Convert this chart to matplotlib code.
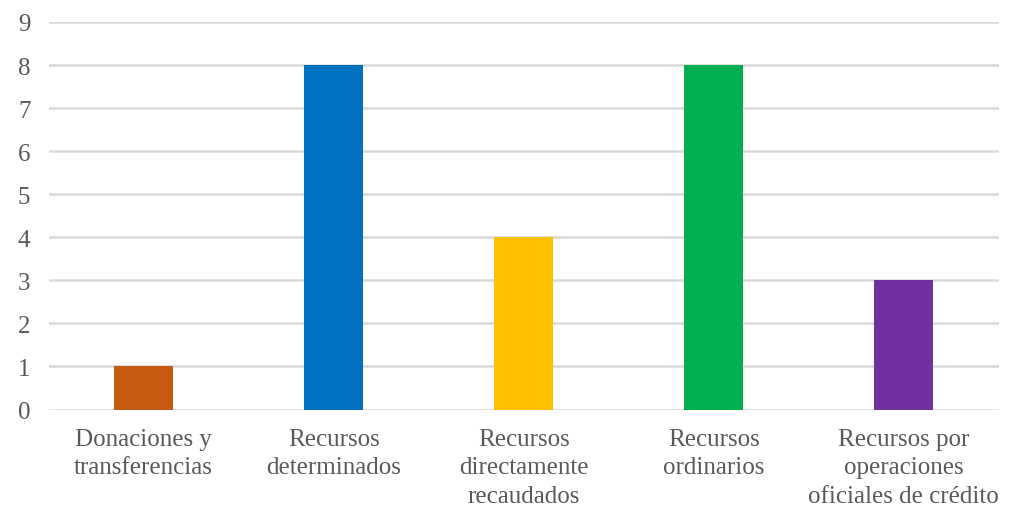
import matplotlib.pyplot as plt

categories = ["Donaciones y\ntransferencias", "Recursos\ndeterminados",
              "Recursos\ndirectamente\nrecaudados", "Recursos\nordinarios",
              "Recursos por\noperaciones\noficiales de crédito"]
values = [1, 8, 4, 8, 3]
colors = ["#C55A11", "#0070C0", "#FFC000", "#00B050", "#7030A0"]

plt.rcParams['font.family'] = ['Liberation Serif', 'DejaVu Serif']

fig, ax = plt.subplots(figsize=(10.11, 5.10), dpi=100)
fig.subplots_adjust(left=0.048, right=0.988, top=0.955, bottom=0.195)

x = range(len(categories))
ax.bar(x, values, width=0.31, color=colors, zorder=3)

ax.set_xlim(-0.5, len(categories) - 0.5)
ax.set_ylim(0, 9)
ax.set_yticks(range(0, 10))
ax.set_xticks(list(x))
ax.set_xticklabels(categories, fontsize=18, color="#595959", linespacing=1.38)
ax.tick_params(axis='y', labelsize=18, labelcolor="#595959", length=0, pad=13)
ax.tick_params(axis='x', length=0, pad=13)
ax.yaxis.grid(True, color="#D9D9D9", linewidth=1.8, zorder=0)
for s in ax.spines.values():
    s.set_visible(False)

fig.savefig("out.png")
